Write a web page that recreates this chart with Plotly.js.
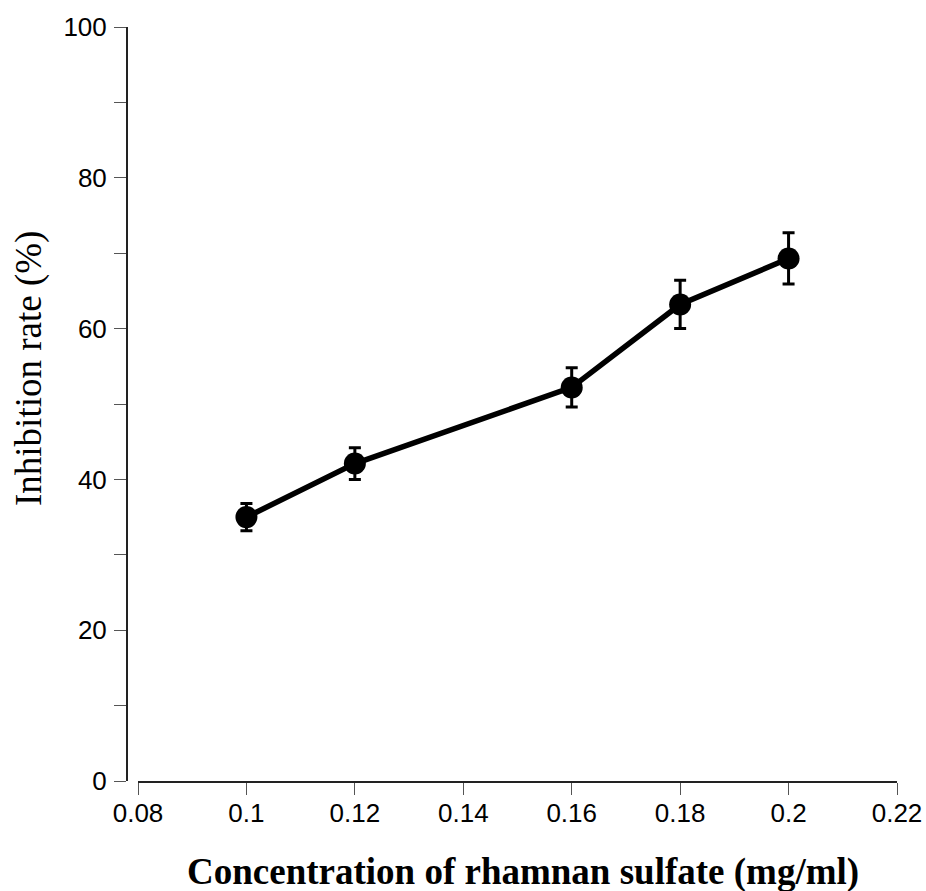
<!DOCTYPE html>
<html>
<head>
<meta charset="utf-8">
<script src="https://cdn.plot.ly/plotly-3.0.1.min.js"></script>
<style>html,body{margin:0;padding:0;background:#fff;}#chart{width:926px;height:891px;}</style>
</head>
<body>
<div id="chart"></div>
<script>
const concentration = [0.10, 0.12, 0.16, 0.18, 0.20];
const inhibitionRate = [35.0, 42.1, 52.2, 63.2, 69.3];
const errorValues = [1.8, 2.1, 2.6, 3.2, 3.4];
const xTickValues = [0.08, 0.10, 0.12, 0.14, 0.16, 0.18, 0.20, 0.22];
const xTickLabels = ['0.08', '0.1', '0.12', '0.14', '0.16', '0.18', '0.2', '0.22'];
const yTickValues = [0, 20, 40, 60, 80, 100];
const yTickLabels = ['0', '20', '40', '60', '80', '100'];
const xTitle = 'Concentration of rhamnan sulfate (mg/ml)';
const yTitle = 'Inhibition rate (%)';

const trace = {
  x: concentration,
  y: inhibitionRate,
  type: 'scatter',
  mode: 'lines+markers',
  line: {color: '#000', width: 5.5},
  marker: {color: '#000', size: 22},
  error_y: {type: 'data', array: errorValues, visible: true, color: '#000', thickness: 3, width: 6},
  showlegend: false
};

const tickFont = {family: 'Liberation Sans, Arial, sans-serif', size: 26, color: '#000'};

const layout = {
  width: 926, height: 891,
  margin: {l: 127, r: 29, t: 27, b: 110},
  paper_bgcolor: '#fff', plot_bgcolor: '#fff',
  xaxis: {
    domain: [11/770, 1],
    range: [0.08, 0.22],
    tickvals: xTickValues, ticktext: xTickLabels,
    ticks: 'outside', ticklen: 12, tickwidth: 1, tickcolor: '#555',
    showline: true, linecolor: '#222', linewidth: 2,
    showgrid: false, zeroline: false,
    tickfont: tickFont, ticklabelstandoff: -4
  },
  yaxis: {
    anchor: 'free', position: 0,
    range: [0, 100],
    tickvals: yTickValues, ticktext: yTickLabels,
    ticks: 'outside', ticklen: 12, tickwidth: 1, tickcolor: '#555',
    minor: {dtick: 10, tick0: 0, ticks: 'outside', ticklen: 12, tickwidth: 1, tickcolor: '#555', showgrid: false},
    showline: true, linecolor: '#222', linewidth: 2,
    showgrid: false, zeroline: false,
    tickfont: tickFont, ticklabelstandoff: 2
  },
  annotations: [
    {text: '<b>' + xTitle + '</b>', xref: 'paper', yref: 'paper', x: (523-138)/759*(1-11/770) + 11/770, y: -(872-781)/754,
     xanchor: 'center', yanchor: 'middle', showarrow: false,
     font: {family: 'Liberation Serif, Times New Roman, serif', size: 37, color: '#000'}},
    {text: yTitle, xref: 'paper', yref: 'paper', x: -(127-29)/770, y: (781-369)/754,
     xanchor: 'center', yanchor: 'middle', textangle: -90, showarrow: false,
     font: {family: 'Liberation Serif, Times New Roman, serif', size: 37, color: '#000'}}
  ]
};

Plotly.newPlot('chart', [trace], layout, {displayModeBar: false, staticPlot: true});
</script>
</body>
</html>
